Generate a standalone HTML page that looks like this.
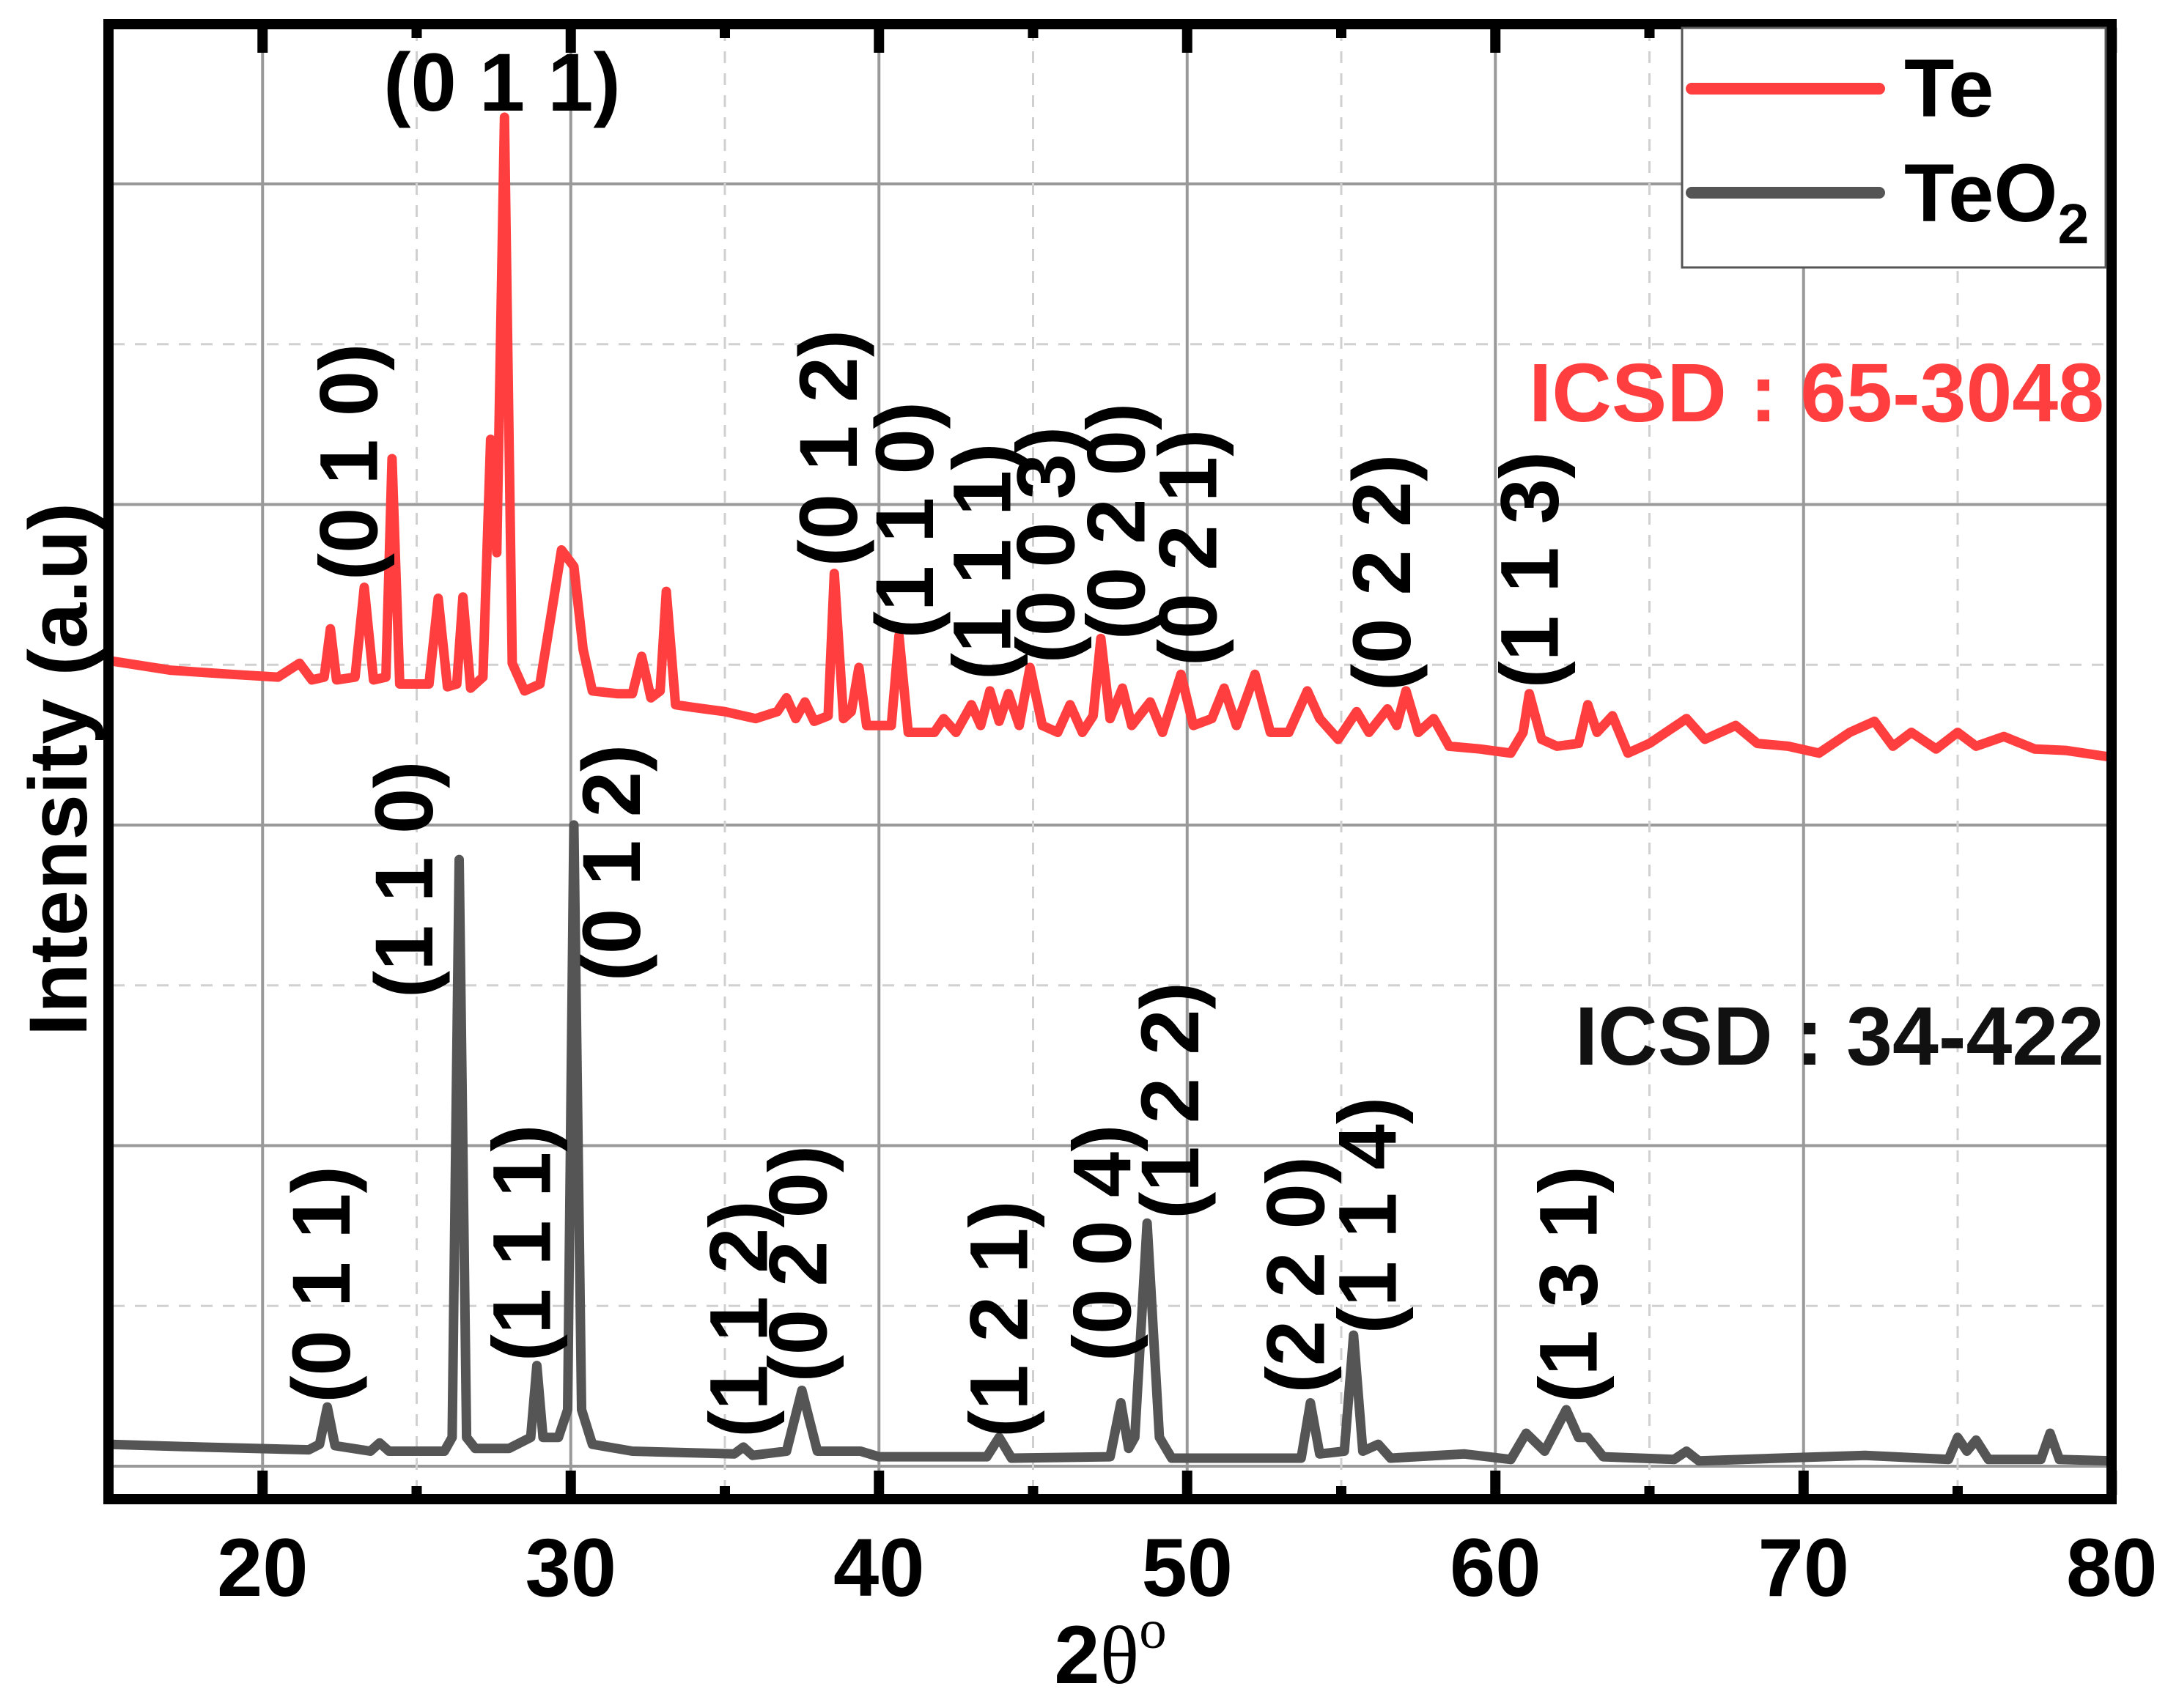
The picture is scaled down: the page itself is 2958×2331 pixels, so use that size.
<!DOCTYPE html>
<html><head><meta charset="utf-8"><style>
html,body{margin:0;padding:0;background:#fff;}
svg{display:block;font-family:"Liberation Sans",Arial,sans-serif;}
</style></head><body>
<svg id="chart" width="2958" height="2331" viewBox="0 0 2958 2331" xmlns="http://www.w3.org/2000/svg">
<g id="grid"></g>
<g id="series"></g>
<g id="labels"></g>
<rect x="148" y="33" width="2733" height="2013" fill="none" stroke="#000" stroke-width="14"/>
<g id="ticks"></g>
<text x="1515" y="2297" font-size="112" font-weight="bold" text-anchor="middle">2<tspan font-family="'Liberation Serif',serif" font-weight="normal">θ</tspan><tspan font-family="'Liberation Serif',serif" font-weight="normal" font-size="75" dy="-48">o</tspan></text>
<text transform="translate(118,1050) rotate(-90)" font-size="112" font-weight="bold" text-anchor="middle">Intensity (a.u)</text>
<text x="2871" y="575" font-size="113" font-weight="bold" fill="#ff3f3f" text-anchor="end">ICSD : 65-3048</text>
<text x="2871" y="1453" font-size="113" font-weight="bold" fill="#111" text-anchor="end">ICSD : 34-422</text>
<g>
<rect x="2295" y="38" width="578" height="327" fill="#fff" stroke="#555" stroke-width="3"/>
<line x1="2308" y1="121" x2="2564" y2="121" stroke="#ff3f3f" stroke-width="16" stroke-linecap="round"/>
<text x="2598" y="159" font-size="112" font-weight="bold">Te</text>
<line x1="2308" y1="263" x2="2564" y2="263" stroke="#555" stroke-width="16" stroke-linecap="round"/>
<text x="2598" y="302" font-size="112" font-weight="bold">TeO<tspan font-size="77" dy="30">2</tspan></text>
</g>
<text x="685" y="151" font-size="112" font-weight="bold" text-anchor="middle">(0 1 1)</text>
</svg>
<script>
// x positions in 2θ (degrees), intensities in arbitrary units (0..1060)
const teX = [15,17,19,20.5,21.2,21.6,22.0,22.2,22.4,23.0,23.3,23.6,24.0,24.2,24.45,25.4,25.7,26.0,26.3,26.5,26.75,27.15,27.4,27.6,27.85,28.1,28.5,29.0,29.4,29.7,30.1,30.4,30.7,31.5,32.0,32.3,32.6,32.9,33.1,33.4,34,35,36,36.7,37.0,37.3,37.6,37.9,38.35,38.55,38.85,39.1,39.35,39.6,40.4,40.65,40.95,41.8,42.1,42.5,43.0,43.3,43.6,43.9,44.2,44.55,44.9,45.3,45.8,46.2,46.6,46.95,47.2,47.5,47.9,48.2,48.8,49.2,49.8,50.2,50.8,51.2,51.6,52.2,52.7,53.3,53.9,54.3,54.9,55.5,55.9,56.5,56.8,57.1,57.5,58.0,58.5,59.5,60.5,60.9,61.1,61.5,62,62.7,63.0,63.3,63.8,64.3,65,66.2,66.8,67.8,68.5,69.5,70.5,71.5,72.3,72.9,73.5,74.3,75,75.6,76.5,77.5,78.5,80];
const teYd = [478,485,488,490,480,492,490,455,492,490,425,492,490,332,495,495,433,497,495,432,498,490,318,400,85,480,500,495,440,398,410,470,500,502,502,475,505,500,428,510,512,515,520,515,505,520,508,522,518,415,520,515,483,525,525,460,530,530,520,530,510,525,500,522,502,525,483,525,530,510,530,518,462,520,498,525,508,530,488,525,520,498,525,488,530,530,500,520,535,515,530,513,525,500,530,520,540,542,545,530,502,535,540,538,510,530,518,545,538,520,535,525,538,540,545,530,522,540,530,542,530,540,533,542,543,548];
const teY = teYd.map(d => 1081 - d);
const teo2X = [15,18,21.5,21.85,22.1,22.35,23.5,23.8,24.1,25.9,26.15,26.38,26.62,26.9,28.0,28.7,28.9,29.1,29.6,29.9,30.1,30.35,30.7,32,35.3,35.6,35.9,37.0,37.5,38.0,39.4,40,43.5,43.9,44.3,47.5,47.85,48.1,48.3,48.7,49.1,49.5,53.7,54.0,54.3,55.1,55.4,55.7,56.2,56.6,59,60.5,61.0,61.6,62.3,62.7,63.0,63.5,65.8,66.2,66.6,72,74.7,75.0,75.3,75.6,76.0,77.7,78.0,78.3,80];
const teo2Yd = [1045,1047,1049,1045,1018,1046,1050,1044,1050,1050,1040,622,1040,1048,1048,1040,988,1040,1040,1020,597,1020,1045,1050,1052,1047,1053,1050,1006,1050,1050,1054,1054,1040,1055,1054,1015,1048,1040,885,1040,1055,1055,1015,1052,1050,966,1050,1045,1055,1052,1056,1037,1050,1020,1040,1040,1054,1056,1050,1057,1053,1056,1040,1050,1042,1056,1056,1037,1056,1057];
const teo2Y = teo2Yd.map(d => 1081 - d);
const xTicks = [20,30,40,50,60,70,80];
const xMinor = [25,35,45,55,65,75];
const teLabels = [["(0 1 0)",23.05,420],["(0 1 2)",38.62,410],["(1 1 0)",41.09,462],["(1 1 1)",43.6,492],["(0 0 3)",45.66,480],["(0 2 0)",47.95,463],["(0 2 1)",50.28,482],["(0 2 2)",56.57,500],["(1 1 3)",61.36,498]];
const teo2Labels = [["(0 1 1)",22.16,1015],["(1 1 0)",24.85,722],["(1 1 1)",28.66,985],["(0 1 2)",31.58,710],["(1 1 2)",35.7,1040],["(0 2 0)",37.63,1000],["(1 2 1)",44.14,1040],["(0 0 4)",47.5,985],["(1 2 2)",49.7,882],["(2 2 0)",53.78,1008],["(1 1 4)",56.1,965],["(1 3 1)",62.62,1015]];

const NS = "http://www.w3.org/2000/svg";
const xs = v => 148 + (v - 15) * 42.05;
const ys = v => 2039 - v * 1.8865;
function mk(tag, attrs, parent){const e=document.createElementNS(NS,tag);for(const k in attrs)e.setAttribute(k,attrs[k]);parent.appendChild(e);return e;}
const grid = document.getElementById('grid');
for (let k=0;k<=8;k++){
  const y = 251 + 218.75*k;
  const l = mk('line',{x1:154,x2:2874,y1:y,y2:y,stroke:k%2?'#d0d0d0':'#999','stroke-width':k%2?3:4,'stroke-dasharray':k%2?'16 14':'none'},grid);
  
  
}
xTicks.concat(xMinor).forEach(v=>{
  const major = xTicks.includes(v);
  if (v>=80) return;
  const l = mk('line',{x1:xs(v),x2:xs(v),y1:40,y2:2039,stroke:major?'#999':'#d0d0d0','stroke-width':major?4:3,'stroke-dasharray':major?'none':'16 14'},grid);
  
  
});
const ticks = document.getElementById('ticks');
xTicks.forEach(v=>{
  const b = mk('line',{x1:xs(v),x2:xs(v),y1:2040,y2:2007,stroke:'#000','stroke-width':14},ticks);
  
  
  const t = mk('line',{x1:xs(v),x2:xs(v),y1:38,y2:72,stroke:'#000','stroke-width':14},ticks);
  
  
  const tx = mk('text',{x:xs(v),y:2178,'font-size':112,'font-weight':'bold','text-anchor':'middle'},ticks);
  tx.textContent = v;
  
  
});
xMinor.forEach(v=>{
  const b = mk('line',{x1:xs(v),x2:xs(v),y1:2040,y2:2028,stroke:'#000','stroke-width':14},ticks);
  
  
  const t = mk('line',{x1:xs(v),x2:xs(v),y1:38,y2:52,stroke:'#000','stroke-width':14},ticks);
  
  
});
const series = document.getElementById('series');
function line(X,Y,color,name){
  const pts = X.map((v,i)=>xs(v).toFixed(1)+','+ys(Y[i]).toFixed(1)).join(' ');
  const p = mk('polyline',{points:pts,fill:'none',stroke:color,'stroke-width':13,'stroke-linejoin':'round','stroke-linecap':'round'},series);
  
  
}
line(teo2X,teo2Y,'#555','teo2-line');
line(teX,teY,'#ff3f3f','te-line');
const labels = document.getElementById('labels');
teLabels.concat(teo2Labels).forEach(([txt,xv,yd])=>{
  const t = mk('text',{transform:`translate(${xs(xv).toFixed(1)},${(yd*1.8865).toFixed(1)}) rotate(-90)`,'font-size':112,'font-weight':'bold',dy:'0.25em'},labels);
  t.textContent = txt;
  
  
});
</script>
</body></html>
